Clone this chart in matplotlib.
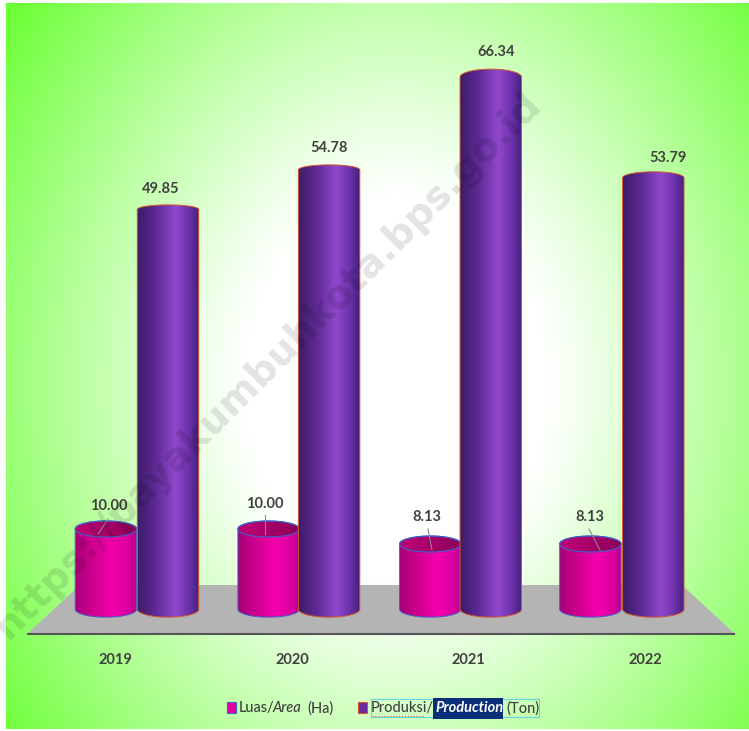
"""
plot.py -- luas / produksi chart, 3D-look cylinders on a green gradient
"""
import numpy as np
import matplotlib
matplotlib.use('Agg')
import matplotlib.pyplot as plt
from matplotlib.colors import LinearSegmentedColormap
from matplotlib.patches import Polygon, Rectangle

# ============================================================
# DATA
# ============================================================
years      = ['2019', '2020', '2021', '2022']
luas       = [10.00, 10.00, 8.13, 8.13]
produksi   = [49.85, 54.78, 66.34, 53.79]
luas_lbl   = ['10.00', '10.00', '8.13', '8.13']
prod_lbl   = ['49.85', '54.78', '66.34', '53.79']

# ============================================================
# CONFIG
# ============================================================
W, H = 749, 731
FONT = 'Lato'
TEXT = '#404040'

# picture pixels <-> data units
X0, XS = 136.0, 161.7
Y0, YS = 609.2, 8.02

def dx(px):
    return (px - X0) / XS

def dy(py):
    return (Y0 - py) / YS

pink_cmap = LinearSegmentedColormap.from_list('pink', [
    (0.0, '#a80078'), (0.3, '#d00090'), (0.6, '#f400ac'), (0.85, '#dc00a0'), (1.0, '#b80088')])
purple_cmap = LinearSegmentedColormap.from_list('purple', [
    (0.0, '#3c1c66'), (0.3, '#5f2a96'), (0.62, '#9048cc'), (0.85, '#6a30a8'), (1.0, '#44207c')])
pink_top = LinearSegmentedColormap.from_list('pinktop', ['#c00078', '#8c0058'])

fig = plt.figure(figsize=(W / 100, H / 100), dpi=100, facecolor='white')
ax = fig.add_axes([0, 0, 1, 1])
ax.axis('off')

# ============================================================
# BACKGROUND
# ============================================================
xx, yy = np.meshgrid(np.arange(6, 748), np.arange(3, 729))
r = np.sqrt(((xx - 395) / 395.0) ** 2 + ((yy - 385) / 500.0) ** 2) / 1.26
t = np.clip((r - 0.3) / 0.7, 0, 1)[..., None] ** 1.1
bg = (1 - t) * np.array([1, 1, 1.0]) + t * np.array([0.40, 1.0, 0.18])
ax.imshow(bg, extent=(dx(6), dx(748), dy(729), dy(3)), aspect='auto',
          origin='upper', zorder=0)

# ============================================================
# FLOOR
# ============================================================
floor = Polygon([(dx(27), dy(634)), (dx(80), dy(585)), (dx(682), dy(585)), (dx(735), dy(634))],
                closed=True, facecolor='#b4b4b4', edgecolor='none', zorder=1)
ax.add_patch(floor)
ax.plot([dx(27), dx(735)], [dy(634), dy(634)], color='#555555', lw=1.5, zorder=1.1,
        solid_capstyle='butt')


# ============================================================
# HELPER -- one cylinder
# ============================================================
def cylinder(xc, value, width, cmap, edge, top_px, z, open_top=False):
    x0, x1 = xc - width / 2, xc + width / 2
    rx = width / 2
    base_ry = 8.0 / YS
    top_ry = top_px / YS
    ang = np.linspace(0, np.pi, 60)
    # outline: under the base left to right, then over the top right to left
    xs = np.r_[xc - rx * np.cos(ang), xc + rx * np.cos(ang)]
    ys = np.r_[-base_ry * np.sin(ang), value + top_ry * np.sin(ang)]
    body = Polygon(np.c_[xs, ys], closed=True, facecolor='none', edgecolor=edge,
                   lw=0.7, zorder=z + 0.2)
    ax.add_patch(body)
    grad = np.linspace(0, 1, 128)[None, :]
    im = ax.imshow(grad, extent=(x0, x1, -base_ry, value + top_ry), cmap=cmap,
                   aspect='auto', zorder=z, vmin=0, vmax=1)
    im.set_clip_path(body)
    if open_top:
        ell = np.linspace(0, 2 * np.pi, 100)
        rim = Polygon(np.c_[xc + rx * np.cos(ell), value + top_ry * np.sin(ell)], closed=True,
                      facecolor='none', edgecolor=edge, lw=0.8, zorder=z + 0.3)
        ax.add_patch(rim)
        im2 = ax.imshow(np.linspace(0, 1, 64)[None, :], extent=(x0, x1, value - top_ry, value + top_ry),
                        cmap=pink_top, aspect='auto', zorder=z + 0.1, vmin=0, vmax=1)
        im2.set_clip_path(rim)


# ============================================================
# CYLINDERS
# ============================================================
purple_top_px = [4.5, 5, 8, 6]
pink_off = [-0.186, -0.18, -0.18, -0.19]
prod_off = [0.198, 0.194, 0.194, 0.199]

for i in range(len(years)):
    cylinder(i + pink_off[i], luas[i], 0.38, pink_cmap, '#3f62c8', 8, 2 + i, open_top=True)
    cylinder(i + prod_off[i], produksi[i], 0.38, purple_cmap, '#d0582c', purple_top_px[i], 2.5 + i)

# ============================================================
# VALUE LABELS
# ============================================================
prod_txt_off = [(-7, 20), (0, 22), (5, 25), (15, 20)]
luas_txt_off = [(3, 23), (-4, 25), (-3, 27), (-1, 27)]
leader_from  = [(108, 519), (265, 515), (428, 529), (589, 529)]
leader_to    = [(98, 534), (265, 534), (432, 550), (600, 550)]

for i in range(len(years)):
    ax.annotate(prod_lbl[i], xy=(i + prod_off[i], produksi[i]), xytext=prod_txt_off[i],
                textcoords='offset pixels', ha='center', va='center', fontsize=10.5,
                fontweight='bold', family=FONT, color=TEXT, zorder=20)
    ax.annotate(luas_lbl[i], xy=(i + pink_off[i], luas[i]), xytext=luas_txt_off[i],
                textcoords='offset pixels', ha='center', va='center', fontsize=10.5,
                fontweight='bold', family=FONT, color=TEXT, zorder=20)
    ax.plot([dx(leader_from[i][0]), dx(leader_to[i][0])],
            [dy(leader_from[i][1]), dy(leader_to[i][1])], color='#8a8a8a', lw=0.8, zorder=19)

# ============================================================
# YEAR LABELS (perspective floor, so they do not sit under the bars)
# ============================================================
year_px = [115, 292, 468, 645]
for lab, px in zip(years, year_px):
    ax.text(dx(px), dy(660), lab, ha='center', va='center', fontsize=10.5, fontweight='bold',
            family=FONT, color=TEXT, zorder=20)

# ============================================================
# LEGEND
# ============================================================
ax.add_patch(Rectangle((dx(226.5), dy(712.5)), 9 / XS, 11 / YS, facecolor='#e600a0',
                       edgecolor='#3f62c8', lw=0.8, zorder=20))
ax.add_patch(Rectangle((dx(358), dy(712.5)), 9 / XS, 11 / YS, facecolor='#6a2aa0',
                       edgecolor='#d0582c', lw=0.8, zorder=20))
# selection boxes round the second entry
ax.add_patch(Rectangle((dx(371), dy(717)), 168 / XS, 18 / YS, facecolor='none',
                       edgecolor='#5fd8e0', lw=0.8, zorder=20))
ax.add_patch(Rectangle((dx(433), dy(719)), 70 / XS, 21 / YS, facecolor='#0a2f78',
                       edgecolor='none', zorder=20.5))
ax.plot([dx(372), dx(425)], [dy(716), dy(716)], color='#e05040', lw=0.8, ls=':', zorder=20.6)

LEG = dict(fontsize=10.5, family=FONT, fontweight='medium', color=TEXT, va='center', ha='left', zorder=21)
ax.text(dx(239), dy(708), 'Luas/', **LEG)
ax.text(dx(273), dy(708), 'Area', style='italic', **LEG)
ax.text(dx(307), dy(708), '(Ha)', **LEG)
ax.text(dx(371), dy(708), 'Produksi/', **LEG)
ax.text(dx(435), dy(708), 'Production', style='italic',
        **{**LEG, 'color': 'white', 'fontweight': 'bold'})
ax.text(dx(506), dy(708), '(Ton)', **LEG)

# ============================================================
# WATERMARK
# ============================================================
ax.text(dx(268), dy(365), 'https://payakumbuhkota.bps.go.id', rotation=45, rotation_mode='anchor',
        ha='center', va='center', fontsize=28, fontweight='bold', family='DejaVu Sans',
        color='black', alpha=0.11, zorder=30, clip_on=True)

ax.set_xlim(dx(0), dx(W))
ax.set_ylim(dy(H), dy(0))

plt.savefig('out.png', dpi=100, facecolor='white')
plt.close()
